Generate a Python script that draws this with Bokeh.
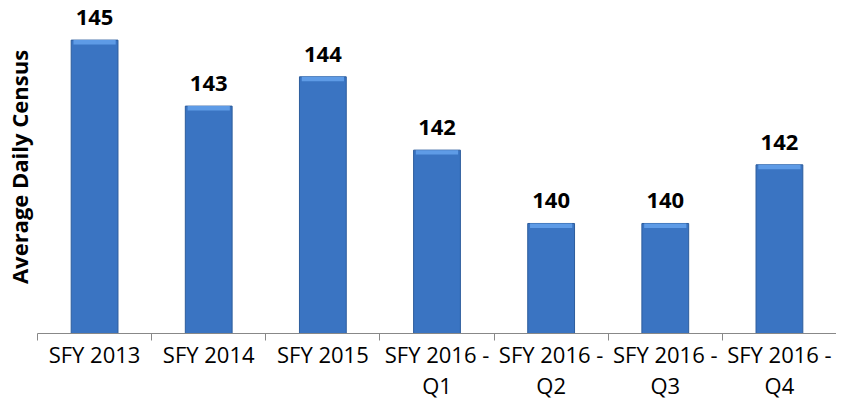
from bokeh.plotting import figure
from bokeh.models import Range1d, FixedTicker, ColumnDataSource, LabelSet
from bokeh.core.properties import value
from bokeh.embed import file_html
from bokeh.resources import INLINE

categories = ["SFY 2013", "SFY 2014", "SFY 2015", "SFY 2016 -\nQ1", "SFY 2016 -\nQ2",
              "SFY 2016 -\nQ3", "SFY 2016 -\nQ4"]
census = [145.0, 143.2, 144.0, 142.0, 140.0, 140.0, 141.6]
labels = [str(int(round(v))) for v in census]

n = len(categories)
centers = [i + 0.5 for i in range(n)]
bounds = [float(i) for i in range(n + 1)]
y_start = 137.0

src = ColumnDataSource(dict(x=centers, top=census, lab=labels))

p = figure(width=836, height=403, output_backend="svg", toolbar_location=None,
           x_range=Range1d(0, n), y_range=Range1d(y_start, 146.08),
           min_border_left=30, min_border_right=0, min_border_top=0, min_border_bottom=0)
p.outline_line_color = None
p.grid.grid_line_color = None
p.background_fill_color = "white"
p.border_fill_color = "white"

FONT = "Open Sans"

# bars
p.vbar(x="x", top="top", bottom=y_start, width=0.41, source=src,
       fill_color="#3a74c2", line_color="#2c5c9c", line_width=1)
# light bevel near top
bevel_bot = [v - 0.12 for v in census]
p.vbar(x=centers, top=census, bottom=bevel_bot, width=0.37,
       fill_color="#5e9be6", line_color=None)

p.add_layout(LabelSet(x="x", y="top", text="lab", source=src, text_align="center",
                      text_baseline="alphabetic", y_offset=15,
                      text_font=value(FONT), text_font_style="bold", text_font_size="22px",
                      text_color="black"))

# x axis
xa = p.xaxis[0]
xa.ticker = FixedTicker(ticks=centers, minor_ticks=bounds)
xa.major_label_overrides = {c: lab for c, lab in zip(centers, categories)}
xa.major_tick_out = 0
xa.major_tick_in = 0
xa.minor_tick_out = 7
xa.minor_tick_in = 0
xa.minor_tick_line_color = "#888888"
xa.axis_line_color = "#888888"
xa.major_label_standoff = -2
xa.major_label_text_line_height = 1.05
xa.major_label_text_font = FONT
xa.major_label_text_font_size = "22px"
xa.major_label_text_color = "black"

# y axis: label only
ya = p.yaxis[0]
ya.ticker = FixedTicker(ticks=[])
ya.axis_line_color = None
ya.major_tick_line_color = None
ya.minor_tick_line_color = None
ya.axis_label = "Average Daily Census"
ya.axis_label_text_font = FONT
ya.axis_label_text_font_style = "bold"
ya.axis_label_text_font_size = "22px"
ya.axis_label_text_color = "black"
ya.axis_label_standoff = 4

open("out.html", "w").write(file_html(p, INLINE))
